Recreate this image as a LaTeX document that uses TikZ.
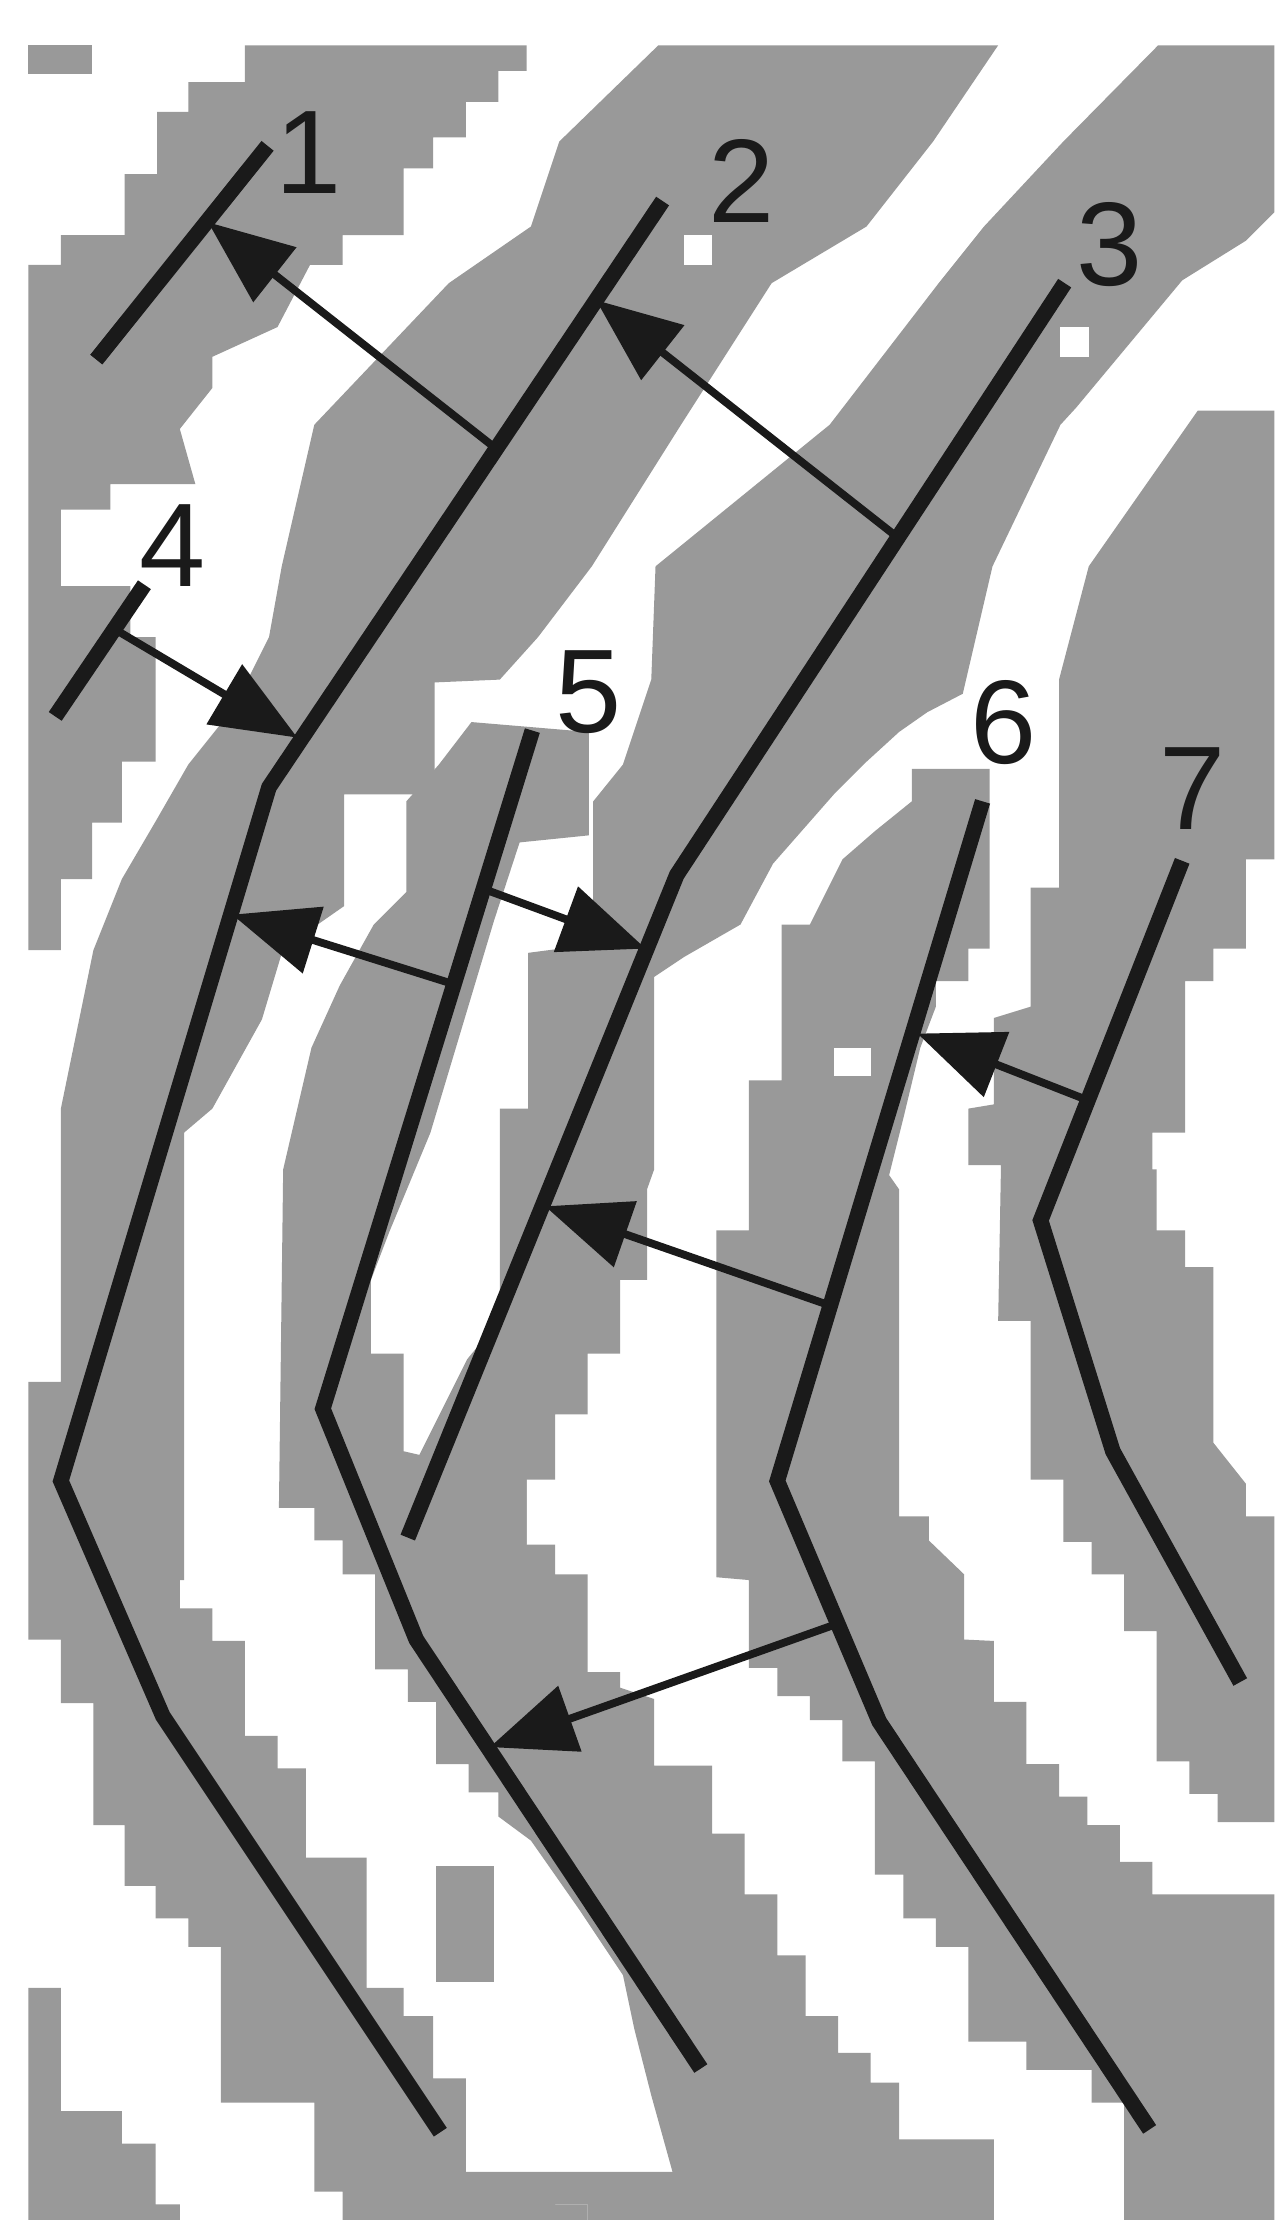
\documentclass[tikz,border=0pt]{standalone}
\usepackage{fontspec}
\setmainfont{Liberation Sans}
\usetikzlibrary{arrows.meta}
\definecolor{ridgegray}{RGB}{153,153,153}
\definecolor{ink}{RGB}{26,26,26}
\begin{document}
\begin{tikzpicture}[x=1pt,y=-1pt,
  ridge/.style={fill=ridgegray,draw=none},
  trace/.style={draw=ink,line width=11pt,line join=miter},
  ptr/.style={draw=ink,line width=5.5pt,-{Triangle[length=60pt,width=48pt]}},
  lbl/.style={font=\fontsize{84}{84}\selectfont,text=ink,inner sep=0pt}]
\useasboundingbox (0,0) rectangle (900,1568);
\fill[white] (0,0) rectangle (900,1568);
% ---- gray ridges ----
\fill[ridge] (20,32) rectangle (65,52);
% ridge of trace 1 and left border
\fill[ridge] (173,32) -- (372,32) -- (372,50) -- (352,50) -- (352,72) -- (329,72) -- (329,97) -- (306,97) -- (306,119) -- (285,119) -- (285,166) -- (242,166) -- (242,187) -- (219,187) -- (196,231) -- (150,252) -- (150,274) -- (127,303) -- (138,342) -- (78,342) -- (78,360) -- (43,360) -- (43,414) -- (92,414) -- (92,450) -- (110,450) -- (110,538) -- (86,538) -- (86,581) -- (65,581) -- (65,621) -- (43,621) -- (43,671) -- (20,671) -- (20,187) -- (43,187) -- (43,166) -- (88,166) -- (88,123) -- (111,123) -- (111,79) -- (133,79) -- (133,58) -- (173,58) -- cycle;
% ridge of trace 2
\fill[ridge] (465,32) -- (395,100) -- (375,160) -- (317,200) -- (222,300) -- (199,400) -- (190,450) -- (165,500) -- (133,540) -- (110,580) -- (86,621) -- (66,671) -- (43,783) -- (43,976) -- (20,976) -- (20,1158) -- (43,1158) -- (43,1203) -- (66,1203) -- (66,1289) -- (88,1289) -- (88,1332) -- (110,1332) -- (110,1355) -- (133,1355) -- (133,1375) -- (156,1375) -- (156,1485) -- (222,1485) -- (222,1548) -- (242,1548) -- (242,1568) -- (415,1568) -- (415,1557) -- (392,1557) -- (392,1534) -- (329,1534) -- (329,1468) -- (306,1468) -- (306,1424) -- (285,1424) -- (285,1404) -- (259,1404) -- (259,1312) -- (216,1312) -- (216,1249) -- (196,1249) -- (196,1226) -- (173,1226) -- (173,1159) -- (150,1159) -- (150,1136) -- (127,1136) -- (127,1116) -- (130,1116) -- (130,800) -- (150,783) -- (185,720) -- (200,670) -- (243,640) -- (243,561) -- (307,561) -- (307,482) -- (353,480) -- (380,450) -- (418,400) -- (481,300) -- (545,200) -- (612,160) -- (659,100) -- (705,32) -- cycle;
% ridge of trace 3
\fill[ridge] (818,32) -- (751,100) -- (695,160) -- (663,200) -- (586,300) -- (463,400) -- (460,480) -- (440,540) -- (419,566) -- (419,667) -- (373,673) -- (373,783) -- (353,783) -- (353,932) -- (330,960) -- (310,1000) -- (290,1040) -- (274,1060) -- (274,1091) -- (372,1091) -- (372,1045) -- (392,1045) -- (392,999) -- (415,999) -- (415,956) -- (438,956) -- (438,904) -- (457,904) -- (457,840) -- (462,826) -- (462,690) -- (483,676) -- (523,653) -- (546,610) -- (589,561) -- (612,538) -- (635,517) -- (655,503) -- (680,490) -- (701,400) -- (749,300) -- (760,288) -- (800,240) -- (835,198) -- (880,170) -- (900,150) -- (900,32) -- cycle;
% ridge of trace 7 (right)
\fill[ridge] (846,290) -- (900,290) -- (900,607) -- (880,607) -- (880,670) -- (857,670) -- (857,693) -- (837,693) -- (837,800) -- (814,800) -- (814,826) -- (817,826) -- (817,869) -- (837,869) -- (837,895) -- (857,895) -- (857,1019) -- (880,1048) -- (880,1071) -- (900,1071) -- (900,1287) -- (860,1287) -- (860,1267) -- (840,1267) -- (840,1244) -- (817,1244) -- (817,1152) -- (794,1152) -- (794,1112) -- (771,1112) -- (771,1089) -- (751,1089) -- (751,1045) -- (728,1045) -- (728,933) -- (705,933) -- (707,823) -- (684,823) -- (684,783) -- (702,780) -- (702,719) -- (728,711) -- (728,627) -- (748,627) -- (748,480) -- (769,400) -- cycle;
% ridge of trace 6
\fill[ridge] (644,543) -- (699,543) -- (699,670) -- (684,670) -- (684,693) -- (661,693) -- (661,711) -- (650,740) -- (638,790) -- (628,830) -- (635,840) -- (635,1071) -- (656,1071) -- (656,1088) -- (681,1112) -- (681,1158) -- (702,1159) -- (702,1202) -- (725,1202) -- (725,1246) -- (748,1246) -- (748,1269) -- (768,1269) -- (768,1289) -- (791,1289) -- (791,1315) -- (814,1315) -- (814,1338) -- (900,1338) -- (900,1568) -- (794,1568) -- (794,1485) -- (771,1485) -- (771,1462) -- (725,1462) -- (725,1442) -- (684,1442) -- (684,1375) -- (661,1375) -- (661,1355) -- (638,1355) -- (638,1324) -- (618,1324) -- (618,1244) -- (595,1244) -- (595,1215) -- (572,1215) -- (572,1198) -- (549,1198) -- (549,1178) -- (529,1178) -- (529,1116) -- (506,1114) -- (506,869) -- (529,869) -- (529,763) -- (552,763) -- (552,653) -- (572,653) -- (595,607) -- (618,587) -- (644,566) -- cycle;
% ridge of trace 5
\fill[ridge] (333,510) -- (416,517) -- (416,590) -- (367,595) -- (349,650) -- (334,700) -- (304,800) -- (275,870) -- (262,904) -- (262,956) -- (285,956) -- (285,1025) -- (372,1045) -- (372,1091) -- (392,1091) -- (392,1112) -- (415,1112) -- (415,1181) -- (438,1181) -- (438,1192) -- (462,1200) -- (462,1247) -- (503,1247) -- (503,1295) -- (526,1295) -- (526,1338) -- (549,1338) -- (549,1381) -- (569,1381) -- (569,1424) -- (592,1424) -- (592,1450) -- (615,1450) -- (615,1471) -- (635,1471) -- (635,1511) -- (702,1511) -- (702,1568) -- (415,1568) -- (415,1557) -- (392,1557) -- (392,1534) -- (475,1534) -- (460,1480) -- (448,1433) -- (440,1395) -- (410,1350) -- (375,1300) -- (352,1283) -- (352,1266) -- (331,1266) -- (331,1246) -- (308,1246) -- (308,1202) -- (288,1202) -- (288,1179) -- (265,1179) -- (265,1112) -- (242,1112) -- (242,1088) -- (222,1088) -- (222,1065) -- (197,1065) -- (200,826) -- (220,740) -- (240,696) -- (264,653) -- (287,630) -- (287,566) -- (310,540) -- cycle;
% small pieces
\fill[ridge] (308,1318) rectangle (349,1400);
\fill[ridge] (20,1404) -- (43,1404) -- (43,1491) -- (86,1491) -- (86,1514) -- (110,1514) -- (110,1557) -- (127,1557) -- (127,1568) -- (20,1568) -- cycle;
\fill[white] (589,740) rectangle (615,760);
\fill[white] (483,166) rectangle (503,187);
\fill[white] (749,231) rectangle (769,252);
% ---- ridge traces ----
\coordinate (l1a) at (68,254);   \coordinate (l1b) at (189,103);
\coordinate (l2a) at (468,142);  \coordinate (l2b) at (190,556); \coordinate (l2c) at (43,1046); \coordinate (l2d) at (115,1212); \coordinate (l2e) at (311,1506);
\coordinate (l3a) at (752,200);  \coordinate (l3b) at (478,618); \coordinate (l3c) at (288,1086);
\coordinate (l4a) at (39,506);   \coordinate (l4b) at (102,413);
\coordinate (l5a) at (376,516);  \coordinate (l5b) at (228,995); \coordinate (l5c) at (294,1158); \coordinate (l5d) at (495,1461);
\coordinate (l6a) at (694,566);  \coordinate (l6b) at (549,1046); \coordinate (l6c) at (621,1216); \coordinate (l6d) at (812,1504);
\coordinate (l7a) at (835,608);  \coordinate (l7b) at (735,862); \coordinate (l7c) at (786,1025); \coordinate (l7d) at (876,1188);
\draw[trace] (l1a) -- (l1b);
\draw[trace] (l2a) -- (l2b) -- (l2c) -- (l2d) -- (l2e);
\draw[trace] (l3a) -- (l3b) -- (l3c);
\draw[trace] (l4a) -- (l4b);
\draw[trace] (l5a) -- (l5b) -- (l5c) -- (l5d);
\draw[trace] (l6a) -- (l6b) -- (l6c) -- (l6d);
\draw[trace] (l7a) -- (l7b) -- (l7c) -- (l7d);
% ---- arrows ----
\coordinate (a1s) at (348,315); \coordinate (a1t) at (147,157);
\coordinate (a2s) at (632,378); \coordinate (a2t) at (421,212);
\coordinate (a3s) at (82,445);  \coordinate (a3t) at (210,521);
\coordinate (a4s) at (320,695); \coordinate (a4t) at (164,646);
\coordinate (a5s) at (342,628); \coordinate (a5t) at (456,670);
\coordinate (a6s) at (768,777); \coordinate (a6t) at (648,730);
\coordinate (a7s) at (586,922); \coordinate (a7t) at (385,852);
\coordinate (a8s) at (591,1147); \coordinate (a8t) at (346,1234);
\draw[ptr] (a1s) -- (a1t);
\draw[ptr] (a2s) -- (a2t);
\draw[ptr] (a3s) -- (a3t);
\draw[ptr] (a4s) -- (a4t);
\draw[ptr] (a5s) -- (a5t);
\draw[ptr] (a6s) -- (a6t);
\draw[ptr] (a7s) -- (a7t);
\draw[ptr] (a8s) -- (a8t);
% ---- labels ----
\node[lbl] (t1) at (218,108) {1};
\node[lbl] (t2) at (524,128) {2};
\node[lbl] (t3) at (784,173) {3};
\node[lbl] (t4) at (122,385) {4};
\node[lbl] (t5) at (416,489) {5};
\node[lbl] (t6) at (709,510) {6};
\node[lbl] (t7) at (842,557) {7};
\end{tikzpicture}
\end{document}
